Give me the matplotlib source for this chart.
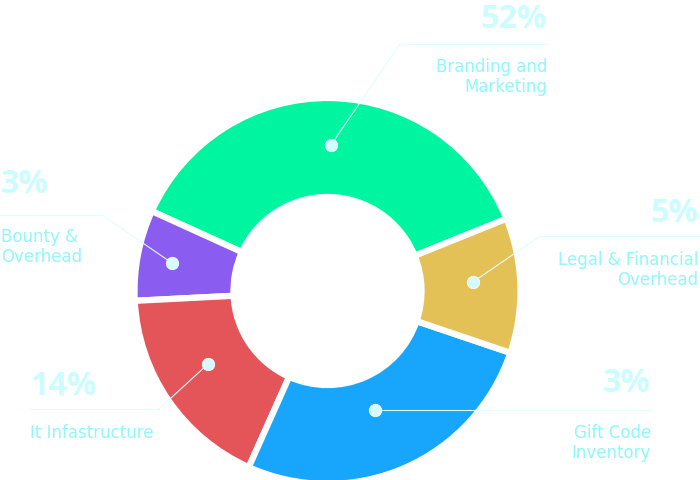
import matplotlib
matplotlib.use("Agg")
import matplotlib.pyplot as plt

# slice shares as drawn (counter-clockwise from the green one)
shares = [37.1, 7.6, 17.5, 26.5, 11.3]
pcts = ["52%", "3%", "14%", "3%", "5%"]
labels = ["Branding and\nMarketing", "Bounty &\nOverhead", "It Infastructure",
          "Gift Code\nInventory", "Legal & Financial\nOverhead"]
colors = ["#00f5a0", "#8a5cf0", "#e4555a", "#17a6fb", "#e4c157"]

W, H = 700, 481
pct_col = "#cdfcff"
lab_col = "#8ff7fd"
line_col = "#e3fdff"

plt.rcParams['font.family'] = ['DejaVu Sans']

fig = plt.figure(figsize=(7, 4.81), dpi=100)
ax = fig.add_axes([0, 0, 1, 1])

ax.pie(shares, colors=colors, startangle=22, counterclock=True,
       radius=193, center=(327.5, H - 292),
       wedgeprops=dict(width=99, edgecolor='white', linewidth=4.5))
ax.set_xlim(0, W)
ax.set_ylim(0, H)
ax.set_aspect('equal')
ax.axis('off')

# layout for the callouts (image pixel coords, y from top)
# dot, elbow, line end, text x, align, pct baseline, label top
callouts = [
    ((331, 146), (400, 45), 547, 547, 'right', 28, 58),
    ((172, 264), (102, 216), 0, 1, 'left', 193, 228),
    ((208, 365), (159, 410), 30, 30, 'left', 395, 424),
    ((375, 411), (375, 411), 652, 651, 'right', 392, 424),
    ((473, 283), (540, 237), 700, 698, 'right', 222, 251),
]

for i, (dot, elb, lend, tx, ha, pby, lty) in enumerate(callouts):
    # diagonal part
    ax.plot([dot[0], elb[0]], [H - dot[1], H - elb[1]], color=line_col,
            lw=0.8, zorder=3)
    ax.plot([elb[0], lend], [H - elb[1], H - elb[1]], color=line_col,
            lw=0.8, zorder=3)
    ax.plot(dot[0], H - dot[1], 'o', ms=9, color="#d6fbff", mec='white',
            mew=0.5, zorder=4)
    ax.text(tx, H - pby, pcts[i], ha=ha, va='baseline', fontsize=23.5,
            fontweight='bold', color=pct_col, family=['Open Sans'])
    ax.text(tx, H - lty, labels[i], ha=ha, va='top', fontsize=12,
            color=lab_col, linespacing=1.12, multialignment=ha)

fig.savefig("out.png", dpi=100, facecolor='white')
